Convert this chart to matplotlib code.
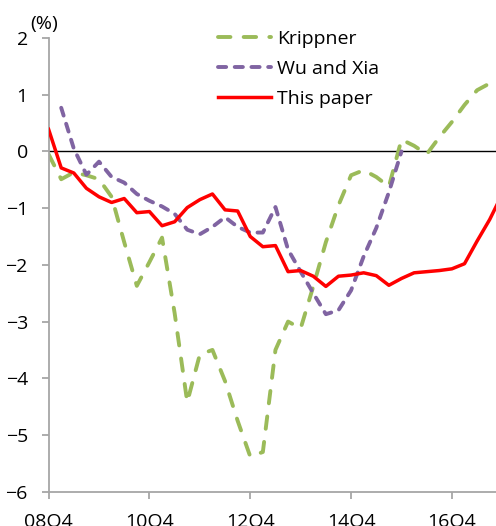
"""Shadow short rate estimates: Krippner, Wu and Xia, and this paper."""

import numpy as np
import matplotlib.pyplot as plt

# quarterly observations, 08Q4 .. 17Q4
QUARTERS = [f"{y:02d}Q{q}" for y in range(8, 18) for q in (1, 2, 3, 4)][3:]
TICK_LABELS = ['08Q4', '10Q4', '12Q4', '14Q4', '16Q4']

krippner = [-0.05, -0.49, -0.37, -0.42, -0.49, -0.80, -1.60, -2.37, -1.95, -1.52,
            -2.85, -4.42, -3.58, -3.50, -4.05, -4.75, -5.38, -5.30, -3.50, -3.00,
            -3.12, -2.38, -1.60, -0.95, -0.42, -0.33, -0.45, -0.62, 0.21, 0.10,
            -0.05, 0.25, 0.52, 0.82, 1.08, 1.20, 1.28]

wu_xia = [np.nan, 0.77, 0.05, -0.41, -0.18, -0.45, -0.55, -0.75, -0.87, -0.97,
          -1.10, -1.38, -1.46, -1.33, -1.16, -1.33, -1.43, -1.43, -0.98, -1.73,
          -2.12, -2.50, -2.87, -2.80, -2.45, -1.85, -1.35, -0.72, 0.0]

this_paper = [0.39, -0.29, -0.38, -0.65, -0.80, -0.90, -0.83, -1.08, -1.06, -1.31,
              -1.24, -0.99, -0.85, -0.75, -1.03, -1.05, -1.50, -1.68, -1.66, -2.12,
              -2.10, -2.20, -2.38, -2.20, -2.18, -2.14, -2.19, -2.36, -2.24, -2.14,
              -2.12, -2.10, -2.07, -1.98, -1.58, -1.20, -0.75]

plt.rcParams['font.family'] = ['Open Sans', 'DejaVu Sans']

fig = plt.figure(figsize=(4.96, 5.26), dpi=100)
ax = fig.add_axes([0.098, 0.0652, 0.902, 0.8625])

x_k = np.arange(len(krippner))
x_w = np.arange(len(wu_xia))
x_p = np.arange(len(this_paper))

ax.axhline(0, color='black', linewidth=1.0, zorder=1)

ax.plot(x_k, krippner, color='#9BBB59', linewidth=2.8, linestyle=(0, (3.2, 3.4)),
        dash_capstyle='round', label='Krippner', zorder=2)
ax.plot(x_w, wu_xia, color='#8064A2', linewidth=2.8, linestyle=(0, (2.1, 2.2)),
        dash_capstyle='round', label='Wu and Xia', zorder=3)
ax.plot(x_p, this_paper, color='#FF0000', linewidth=2.5, label='This paper', zorder=4)

ax.set_xlim(0, 35.5)
ax.set_ylim(-6, 2)
ax.set_yticks(range(-6, 3))
tick_pos = [QUARTERS.index(t) for t in TICK_LABELS]
ax.set_xticks(tick_pos)
ax.set_xticklabels(TICK_LABELS)

for side in ['top', 'right']:
    ax.spines[side].set_visible(False)
for side in ['left', 'bottom']:
    ax.spines[side].set_color('#A6A6A6')
    ax.spines[side].set_linewidth(1.3)
ax.tick_params(axis='both', colors='#A6A6A6', labelcolor='black', length=5,
               width=1.3, labelsize=14)
ax.tick_params(axis='x', pad=10.5)
ax.tick_params(axis='y', pad=10)

ax.text(-1.47, 2.16, '(%)', fontsize=14, ha='left', va='baseline')

leg = ax.legend(loc='upper left', bbox_to_anchor=(218 / 496, 1 - 30 / 526),
                bbox_transform=fig.transFigure, frameon=False, borderpad=0,
                borderaxespad=0, fontsize=14, handlelength=2.7,
                handletextpad=0.32, labelspacing=0.62)

fig.savefig('out.png', dpi=100)
